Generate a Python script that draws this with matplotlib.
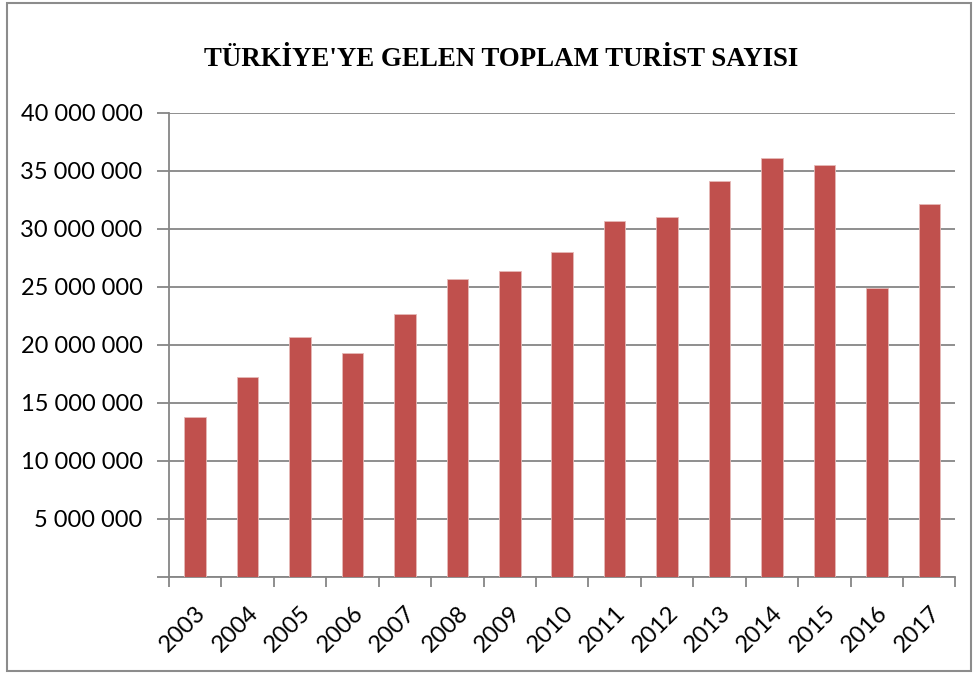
import numpy as np
import matplotlib
matplotlib.use("Agg")
import matplotlib.pyplot as plt
from matplotlib.patches import Rectangle
from matplotlib.ticker import FuncFormatter, MultipleLocator

years = ["2003", "2004", "2005", "2006", "2007", "2008", "2009", "2010",
         "2011", "2012", "2013", "2014", "2015", "2016", "2017"]
tourists = [13770000, 17200000, 20670000, 19270000, 22680000, 25630000,
            26380000, 27990000, 30690000, 31020000, 34100000, 36050000,
            35450000, 24870000, 32090000]

title = "TÜRKİYE'YE GELEN TOPLAM TURİST SAYISI"
bar_color = "#C0504D"
grid_color = "#868686"


def fmt_thousands(v, pos):
    if v == 0:
        return ""
    return f"{int(v):,}".replace(",", " ")


fig = plt.figure(figsize=(9.74, 6.75), dpi=100)
ax = fig.add_axes([0.1735, 0.1452, 0.8075, 0.688])

x = np.arange(len(years))
ax.bar(x, tourists, width=0.41, color=bar_color, edgecolor="#E6B9B8",
       linewidth=0.6, zorder=3)

ax.set_xlim(-0.5, len(years) - 0.5)
ax.set_ylim(0, 40000000)
ax.yaxis.set_major_locator(MultipleLocator(5000000))
ax.yaxis.set_major_formatter(FuncFormatter(fmt_thousands))
ax.grid(axis="y", color=grid_color, linewidth=1.3, zorder=0)

# category boundaries carry the x ticks, like Excel
ax.set_xticks(np.arange(-0.5, len(years), 1.0))
ax.set_xticklabels([])
ax.set_xticks(x, minor=True)
ax.set_xticklabels(years, minor=True, rotation=45, ha="right",
                   rotation_mode="anchor", fontsize=17, family="Lato")
ax.tick_params(axis="x", which="minor", length=0, pad=18)
ax.tick_params(axis="x", which="major", length=7, width=1.3,
               color=grid_color, direction="out")
ax.tick_params(axis="y", length=9, width=1.3, color=grid_color,
               direction="out", labelsize=17, pad=10)
for lbl in ax.get_yticklabels():
    lbl.set_family("Lato")

for side in ["top", "right"]:
    ax.spines[side].set_visible(False)
for side in ["left", "bottom"]:
    ax.spines[side].set_color(grid_color)
    ax.spines[side].set_linewidth(1.3)

fig.text(0.515, 0.912, title, ha="center", va="center", fontsize=19.4,
         fontweight="bold", family="Liberation Serif")

# outer chart frame
fig.patches.append(Rectangle((7 / 974, 4 / 675), 964 / 974, 668 / 675,
                             transform=fig.transFigure, fill=False,
                             edgecolor="#8C8C8C", linewidth=1.5))

fig.savefig("out.png", dpi=100)
